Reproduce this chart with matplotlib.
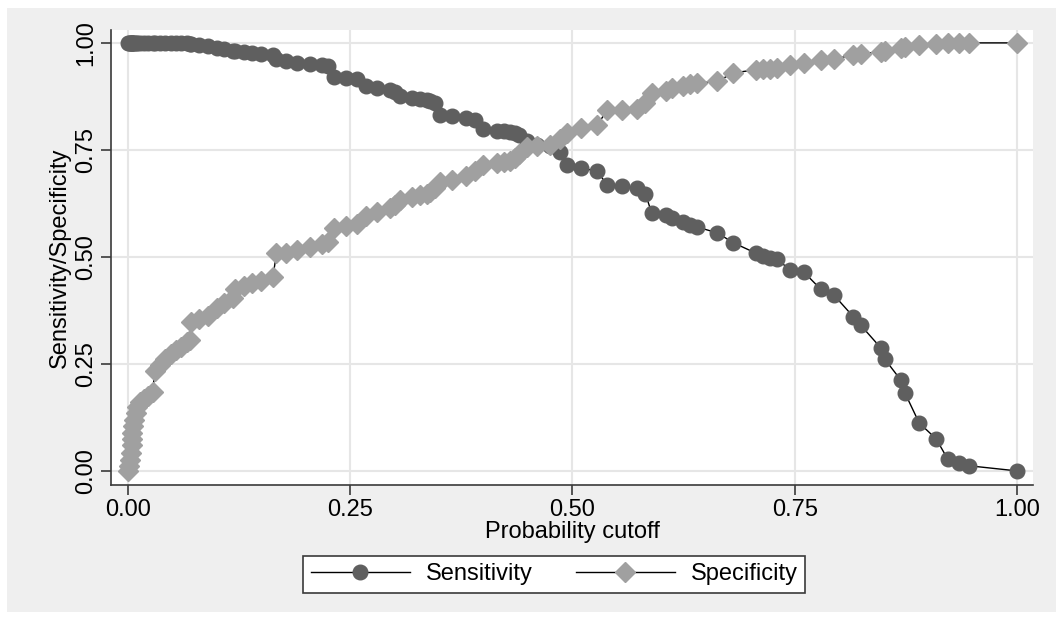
import matplotlib
matplotlib.use("Agg")
import matplotlib.pyplot as plt
from matplotlib.patches import Rectangle

# probability cutoffs
cutoff = [0.000, 0.001, 0.002, 0.003, 0.004, 0.005, 0.005, 0.006, 0.007, 0.009,
          0.010, 0.014, 0.018, 0.023, 0.028, 0.030, 0.036, 0.042, 0.048, 0.054,
          0.060, 0.066, 0.070, 0.071, 0.080, 0.090, 0.100, 0.108, 0.118, 0.120,
          0.130, 0.140, 0.150, 0.163, 0.167, 0.178, 0.190, 0.205, 0.218, 0.225,
          0.232, 0.245, 0.258, 0.268, 0.280, 0.295, 0.300, 0.306, 0.320, 0.328,
          0.336, 0.340, 0.345, 0.351, 0.365, 0.380, 0.390, 0.399, 0.415, 0.423,
          0.430, 0.435, 0.440, 0.449, 0.460, 0.475, 0.486, 0.494, 0.510, 0.528,
          0.539, 0.556, 0.573, 0.582, 0.589, 0.605, 0.612, 0.624, 0.632, 0.640,
          0.663, 0.681, 0.706, 0.714, 0.722, 0.730, 0.745, 0.760, 0.779, 0.794,
          0.816, 0.824, 0.847, 0.851, 0.869, 0.874, 0.890, 0.909, 0.922, 0.935,
          0.946, 1.000]

sensitivity = [1.000, 1.000, 1.000, 1.000, 1.000, 1.000, 1.000, 1.000, 1.000, 1.000,
               1.000, 1.000, 1.000, 1.000, 1.000, 1.000, 1.000, 1.000, 1.000, 1.000,
               1.000, 1.000, 0.998, 0.998, 0.995, 0.993, 0.988, 0.986, 0.982, 0.980,
               0.978, 0.977, 0.975, 0.972, 0.962, 0.957, 0.954, 0.950, 0.948, 0.945,
               0.920, 0.918, 0.915, 0.900, 0.895, 0.890, 0.885, 0.875, 0.872, 0.870,
               0.866, 0.864, 0.860, 0.832, 0.830, 0.825, 0.820, 0.798, 0.795, 0.793,
               0.792, 0.790, 0.785, 0.770, 0.762, 0.760, 0.745, 0.715, 0.708, 0.700,
               0.668, 0.665, 0.660, 0.648, 0.603, 0.598, 0.592, 0.582, 0.575, 0.570,
               0.556, 0.533, 0.509, 0.503, 0.498, 0.495, 0.469, 0.465, 0.425, 0.411,
               0.360, 0.341, 0.287, 0.262, 0.213, 0.182, 0.112, 0.075, 0.028, 0.019,
               0.012, 0.000]

specificity = [0.000, 0.012, 0.025, 0.042, 0.060, 0.075, 0.089, 0.105, 0.119, 0.135,
               0.150, 0.160, 0.168, 0.176, 0.185, 0.233, 0.248, 0.262, 0.272, 0.282,
               0.290, 0.300, 0.305, 0.348, 0.355, 0.362, 0.380, 0.392, 0.405, 0.425,
               0.432, 0.438, 0.444, 0.452, 0.508, 0.510, 0.515, 0.522, 0.530, 0.535,
               0.568, 0.572, 0.578, 0.595, 0.604, 0.615, 0.622, 0.632, 0.640, 0.644,
               0.648, 0.652, 0.660, 0.674, 0.680, 0.688, 0.700, 0.715, 0.720, 0.722,
               0.725, 0.730, 0.740, 0.757, 0.760, 0.762, 0.775, 0.790, 0.800, 0.808,
               0.843, 0.843, 0.846, 0.860, 0.883, 0.888, 0.894, 0.900, 0.903, 0.906,
               0.910, 0.930, 0.937, 0.938, 0.940, 0.942, 0.949, 0.953, 0.960, 0.962,
               0.972, 0.975, 0.979, 0.982, 0.988, 0.990, 0.995, 0.997, 1.000, 1.000,
               1.000, 1.000]

ticks = [0, 0.25, 0.5, 0.75, 1.0]
tick_labels = ["0.00", "0.25", "0.50", "0.75", "1.00"]

plt.rcParams["font.family"] = ["Liberation Sans", "DejaVu Sans"]
fs = 17

fig = plt.figure(figsize=(10.56, 6.17), dpi=100, facecolor="white")
# stata-like gray graph region
fig.patches.append(Rectangle((7 / 1056, 5 / 617), 1.0, 604 / 617,
                             transform=fig.transFigure, facecolor="#efefef",
                             edgecolor="none", zorder=-10))

ax = fig.add_axes([0.1051, 0.2139, 0.8731, 0.7374])
ax.set_zorder(1)
ax.set_facecolor("white")

ax.plot(cutoff, sensitivity, color="black", lw=1.0, marker="o", ms=10.5,
        mfc="#5f5f5f", mec="#5f5f5f", label="Sensitivity", zorder=3)
ax.plot(cutoff, specificity, color="black", lw=1.0, marker="D", ms=10,
        mfc="#a0a0a0", mec="#a0a0a0", label="Specificity", zorder=4)

ax.set_xlim(-0.0191, 1.018)
ax.set_ylim(-0.033, 1.030)
ax.set_xticks(ticks)
ax.set_xticklabels(tick_labels, fontsize=fs)
ax.set_yticks(ticks)
ax.set_yticklabels(tick_labels, fontsize=fs, rotation=90, va="center")
ax.grid(True, color="#e6e6e6", lw=1.5)
ax.set_axisbelow(True)

for s in ["top", "right"]:
    ax.spines[s].set_visible(False)
for s in ["left", "bottom"]:
    ax.spines[s].set_color("#3a3a3a")
    ax.spines[s].set_linewidth(1.2)
ax.tick_params(length=7, width=1.2, color="#3a3a3a", pad=3)

ax.set_xlabel("Probability cutoff", fontsize=fs, labelpad=0)
ax.set_ylabel("Sensitivity/Specificity", fontsize=fs, labelpad=3)

leg = fig.legend(loc="center", bbox_to_anchor=(0.525, 0.069), ncol=2,
                 fontsize=fs, frameon=True, fancybox=False, handlelength=4.2,
                 handletextpad=0.7, columnspacing=1.8, borderpad=0.3)
leg.get_frame().set_edgecolor("#3a3a3a")
leg.get_frame().set_linewidth(1.2)
leg.get_frame().set_facecolor("white")
leg.get_frame().set_alpha(1)

fig.savefig("out.png", dpi=100, facecolor=fig.get_facecolor())
